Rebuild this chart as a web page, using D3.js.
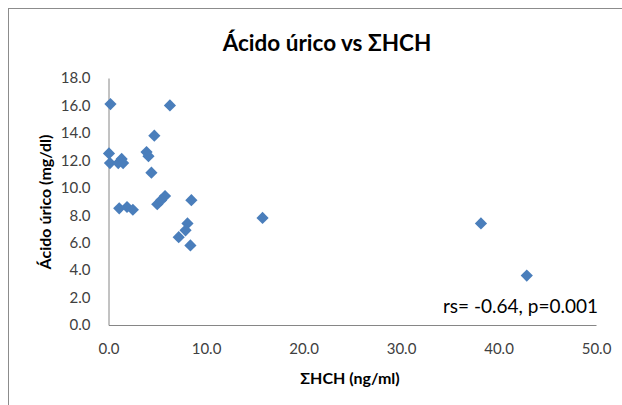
<!DOCTYPE html>
<html>
<head>
<meta charset="utf-8">
<script src="https://cdn.jsdelivr.net/npm/d3@7"></script>
<style>
  html, body { margin: 0; padding: 0; background: #fff; }
  svg { display: block; font-family: Lato, "Open Sans", sans-serif; }
</style>
</head>
<body>
<div id="chart"></div>
<script>
// ΣHCH (ng/ml) against uric acid (mg/dl), one value per subject
const hch = [0.2, 6.3, 4.7, 0.05, 0.15, 1.0, 1.35, 1.5, 3.9, 4.1, 4.4,
             1.1, 1.9, 2.5, 5.0, 5.4, 5.8, 8.5, 8.1, 7.9, 7.2, 8.4,
             15.8, 38.2, 42.9];
const uric = [16.1, 16.0, 13.8, 12.5, 11.8, 11.8, 12.1, 11.8, 12.6, 12.3, 11.1,
              8.5, 8.6, 8.4, 8.8, 9.1, 9.4, 9.1, 7.4, 6.9, 6.4, 5.8,
              7.8, 7.4, 3.6];
const xTicks = [0, 10, 20, 30, 40, 50];
const yTicks = [0, 2, 4, 6, 8, 10, 12, 14, 16, 18];

const title = "Ácido úrico vs ΣHCH";
const xTitle = "ΣHCH (ng/ml)";
const yTitle = "Ácido úrico (mg/dl)";
const note = "rs= -0.64, p=0.001";

const W = 622, H = 405;
const plot = { left: 108.5, right: 596, top: 78, bottom: 325 };

const svg = d3.select("#chart").append("svg")
  .attr("width", W).attr("height", H);

// chart frame
svg.append("rect")
  .attr("x", 8.5).attr("y", 8.5)
  .attr("width", W + 10).attr("height", H + 10)
  .attr("fill", "#fff").attr("stroke", "#8c8c8c").attr("stroke-width", 1);

const x = d3.scaleLinear().domain([0, 50]).range([plot.left, plot.right]);
const y = d3.scaleLinear().domain([0, 18]).range([plot.bottom, plot.top]);

const fmt = d3.format(".1f");

const xAxis = svg.append("g")
  .attr("transform", `translate(0,${plot.bottom})`)
  .call(d3.axisBottom(x).tickValues(xTicks).tickFormat(fmt).tickSize(0).tickPadding(18));
const yAxis = svg.append("g")
  .attr("transform", `translate(${plot.left},0)`)
  .call(d3.axisLeft(y).tickValues(yTicks).tickFormat(fmt).tickSize(0).tickPadding(18));

[xAxis, yAxis].forEach(g => {
  g.select(".domain").attr("stroke", "#868686").attr("stroke-width", 1);
  g.selectAll("text").attr("fill", "#404040")
    .style("font-size", "15px").style("font-family", "Lato, sans-serif");
});

// markers
const diamond = d3.symbol().type(d3.symbolDiamond2).size(95);
svg.append("g").selectAll("path")
  .data(hch.map((v, i) => [v, uric[i]]))
  .join("path")
  .attr("d", diamond)
  .attr("transform", d => `translate(${x(d[0])},${y(d[1])})`)
  .attr("fill", "#4A7EBB");

svg.append("text")
  .attr("x", 327).attr("y", 51)
  .attr("text-anchor", "middle")
  .attr("font-weight", "bold").attr("font-size", 22.5)
  .attr("fill", "#000")
  .text(title);

svg.append("text")
  .attr("x", 350).attr("y", 384)
  .attr("text-anchor", "middle")
  .attr("font-weight", "bold").attr("font-size", 16)
  .attr("fill", "#000")
  .text(xTitle);

svg.append("text")
  .attr("transform", "translate(51,202) rotate(-90)")
  .attr("text-anchor", "middle")
  .attr("font-weight", "bold").attr("font-size", 16)
  .attr("fill", "#000")
  .text(yTitle);

svg.append("text")
  .attr("x", 598).attr("y", 313)
  .attr("text-anchor", "end")
  .attr("font-size", 19)
  .attr("fill", "#000")
  .text(note);
</script>
</body>
</html>
